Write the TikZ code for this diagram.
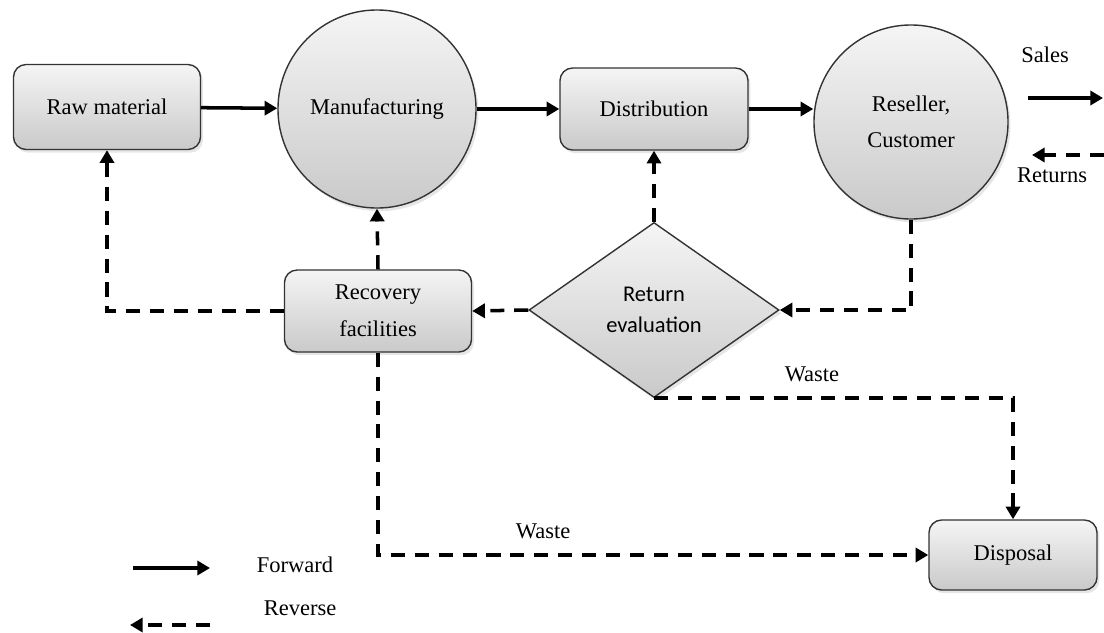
\documentclass[tikz,border=0pt]{standalone}
\usepackage{fontspec}
\setmainfont{Liberation Serif}
\newfontfamily\calibri{Carlito}
\usepackage{tikz}
\usetikzlibrary{shapes.geometric,arrows.meta,shadows}

\begin{document}
\begin{tikzpicture}[x=0.025cm,y=-0.025cm,
    font=\fontsize{16}{26}\selectfont,
    shaded/.style={draw=black!80, line width=1pt, top color=gray!8, bottom color=gray!42,
        drop shadow={opacity=0.2,shadow xshift=0.6mm,shadow yshift=-0.8mm}},
    stage/.style={shaded, rounded corners=9pt, align=center, inner sep=0pt},
    hub/.style={shaded, circle, align=center, inner sep=0pt},
    fwd/.style={-{Triangle[length=9pt,width=10pt]}, line width=2.5pt},
    rev/.style={fwd, dash pattern=on 10pt off 7pt}]
    \useasboundingbox (0,0) rectangle (1104,632);

    % Nodes
    \node[stage, minimum width=4.675cm, minimum height=2.125cm] (raw) at (107,107) {Raw material};
    \node[hub, minimum size=4.95cm] (manu) at (377,109) {Manufacturing};
    \node[stage, minimum width=4.7cm, minimum height=2.05cm] (dist) at (654,109) {Distribution};
    \node[hub, minimum size=4.85cm] (resel) at (911,122) {Reseller,\\Customer};
    \node[shaded, diamond, minimum width=6.25cm, minimum height=4.375cm, inner sep=0pt, align=center,
        font=\calibri\fontsize{16}{22}\selectfont] (eval) at (654,310) {Return\\evaluation};
    \node[stage, minimum width=4.675cm, minimum height=2.05cm] (recov) at (378,311) {Recovery\\facilities};
    \node[stage, minimum width=4.2cm, minimum height=1.75cm] (disp) at (1013,555) {Disposal};

    % Forward flow
    \draw[fwd] (raw) -- (manu);
    \draw[fwd] (manu) -- (dist);
    \draw[fwd] (dist.east) -- (dist.east -| resel.west);

    % Reverse flow
    \draw[rev] (resel.south) |- (eval.east);
    \draw[rev] (eval.north) -- (dist.south);
    \draw[rev] (eval.west) -- (recov.east);
    \draw[rev] (recov.north) -- (manu.south);
    \draw[rev] (recov.west) -| (raw.south);
    \draw[rev] (eval.south) -| (disp.north) node[pos=0.22, above=7pt] (waste1) {Waste};
    \draw[rev] (recov.south) |- (disp.west) node[pos=0.65, above=7pt] (waste2) {Waste};

    % Sales and returns
    \coordinate (salesA) at (1028,98);
    \coordinate (salesB) at (1103,98);
    \coordinate (retA) at (1104,155);
    \coordinate (retB) at (1032,155);
    \draw[fwd] (salesA) -- (salesB);
    \draw[rev] (retA) -- (retB);
    \node (sales) at (1045,55) {Sales};
    \node (returns) at (1052,175) {Returns};

    % Legend
    \coordinate (fwdA) at (133,568);
    \coordinate (fwdB) at (210,568);
    \coordinate (revA) at (210,625);
    \coordinate (revB) at (130,625);
    \draw[fwd] (fwdA) -- (fwdB);
    \draw[rev] (revA) -- (revB);
    \node (fwdlbl) at (295,565) {Forward};
    \node (revlbl) at (300,608) {Reverse};
\end{tikzpicture}
\end{document}
